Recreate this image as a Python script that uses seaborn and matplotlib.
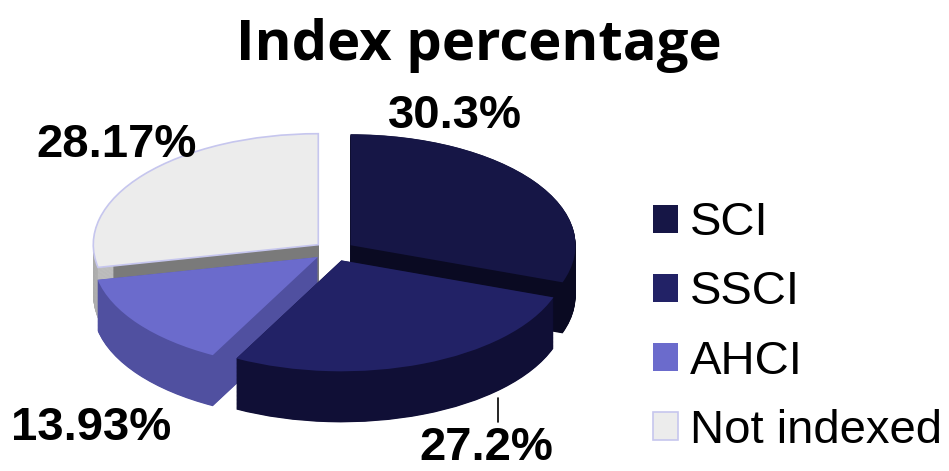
import numpy as np
import matplotlib
matplotlib.use("Agg")
import matplotlib.pyplot as plt
import seaborn as sns

# data
categories = ["SCI", "SSCI", "AHCI", "Not indexed"]
shares = [30.3, 27.2, 13.93, 28.17]

top_colors = ["#161646", "#222266", "#6b6bcc", "#ececec"]
side_colors = ["#0a0a22", "#100f36", "#5050a0", "#7a7a7a"]
curve_grey = "#d4d4d4"

sns.set_theme(style="white")
plt.rcParams["font.family"] = ["Liberation Sans", "DejaVu Sans"]
plt.rcParams["text.color"] = "black"

top_pal = sns.color_palette(top_colors)
side_pal = sns.color_palette(side_colors)

fig = plt.figure(figsize=(9.49, 4.71), dpi=100)
ax = fig.add_axes([0, 0, 1, 1])

explode = [0.09, 0.09, 0.09, 0.09]
depth = 0.46
nlayers = 90

# extruded sides, bottom layer first
for t in np.linspace(depth, 0.002, nlayers):
    ax.pie(shares, colors=side_pal, startangle=90, counterclock=False,
           explode=explode, center=(0, -t), radius=1,
           wedgeprops=dict(linewidth=0))
    # lighter outer wall of the "Not indexed" slice
    ax.pie(shares, colors=["none", "none", "none", curve_grey], startangle=90,
           counterclock=False, explode=explode, center=(0, -t), radius=1,
           wedgeprops=dict(linewidth=0, width=0.07))

# top faces
wedges, _ = ax.pie(shares, colors=top_pal, startangle=90, counterclock=False,
                   explode=explode, center=(0, 0), radius=1,
                   wedgeprops=dict(linewidth=0))
wedges[3].set_edgecolor("#c6c6ee")
wedges[3].set_linewidth(1.2)

# squash to get the tilted look
px_x = 225.0
px_y = 111.0
cx, cy = 334.0, 471 - 251.0
ax.set_aspect("auto")
ax.set_xlim(-cx / px_x, (949 - cx) / px_x)
ax.set_ylim(-cy / px_y, (471 - cy) / px_y)
ax.axis("off")

# percentage labels
lab = {c: f"{v:g}%" for c, v in zip(categories, shares)}
kw = dict(fontsize=34, fontweight="bold", color="black", ha="center", va="baseline")
fig.text(455 / 949, 1 - 128 / 471, lab["SCI"], **kw)
fig.text(117 / 949, 1 - 157 / 471, lab["Not indexed"], **kw)
fig.text(91 / 949, 1 - 440 / 471, lab["AHCI"], **kw)
fig.text(486 / 949, 1 - 460 / 471, lab["SSCI"], **kw)
fig.add_artist(plt.Line2D([498 / 949, 498 / 949], [1 - 398 / 471, 1 - 422 / 471],
                          transform=fig.transFigure, color="black", lw=1.2))

# title
fig.text(479 / 949, 1 - 60 / 471, "Index percentage", fontsize=40.5, fontweight="bold",
         color="black", family=["Open Sans", "DejaVu Sans"], ha="center", va="baseline")

# legend
leg = fig.legend(wedges, categories, loc="center left", bbox_to_anchor=(653 / 949, 1 - 327 / 471),
                 frameon=False, fontsize=34, handlelength=0.53, handleheight=0.53,
                 handletextpad=0.25, labelspacing=0.53, borderpad=0, borderaxespad=0,
                 labelcolor="black")

fig.savefig("out.png", dpi=100)
